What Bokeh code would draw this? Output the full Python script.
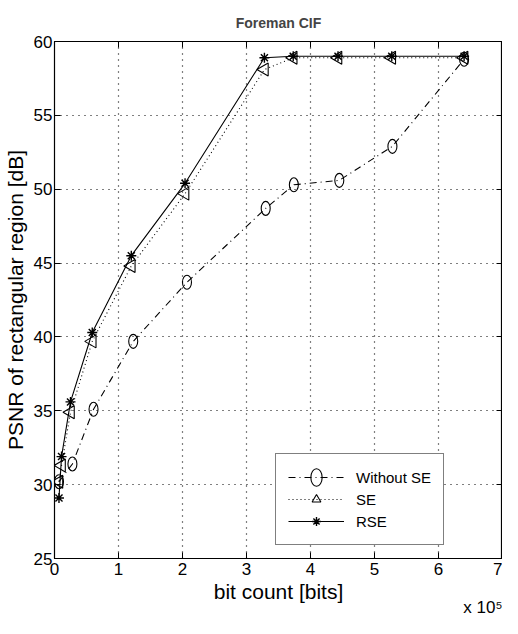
import math
from bokeh.plotting import figure
from bokeh.models import (Range1d, FixedTicker, LinearAxis, Title, Legend, LegendItem)
from bokeh.embed import file_html
from bokeh.resources import INLINE

# ---- data (bit count in bits, PSNR in dB) ----
x_rse = [7000, 11000, 25000, 59000, 120000, 204000, 328000, 373000, 443000, 527000, 640000]
y_rse = [29.1, 31.9, 35.6, 40.3, 45.5, 50.4, 58.9, 59.0, 59.0, 59.0, 59.0]

x_se = [7000, 11000, 25000, 59000, 120000, 204000, 328000, 373000, 443000, 527000, 640000]
y_se = [30.2, 31.3, 34.9, 39.7, 44.8, 49.7, 58.1, 58.9, 58.9, 58.9, 58.9]

x_wo = [7000, 28000, 61000, 123000, 207000, 330000, 374000, 445000, 528000, 640000]
y_wo = [30.2, 31.4, 35.1, 39.7, 43.7, 48.7, 50.3, 50.6, 52.9, 58.8]

x_ticks = [0, 100000, 200000, 300000, 400000, 500000, 600000, 700000]
x_tick_labels = ["0", "1", "2", "3", "4", "5", "6", "7"]
y_ticks = [25, 30, 35, 40, 45, 50, 55, 60]

FONT = "'Liberation Sans Narrow', 'Liberation Sans', sans-serif"

p = figure(width=502, height=618, output_backend="svg", toolbar_location=None,
           x_range=Range1d(0, 700000), y_range=Range1d(25, 60),
           min_border_left=50, min_border_right=0, min_border_top=41,
           min_border_bottom=60)
p.background_fill_color = "white"
p.border_fill_color = "white"
p.outline_line_color = "black"
p.outline_line_width = 1.2

p.title.text = "Foreman CIF"
p.title.align = "center"
p.title.text_font = FONT
p.title.text_font_size = "14px"
p.title.text_font_style = "bold"
p.title.offset = 0
p.title.standoff = 22

# axes
xa = p.xaxis[0]
ya = p.yaxis[0]
xa.ticker = FixedTicker(ticks=x_ticks)
xa.major_label_overrides = {t: l for t, l in zip(x_ticks, x_tick_labels)}
ya.ticker = FixedTicker(ticks=y_ticks)
for ax in (xa, ya):
    ax.major_tick_in = 6
    ax.major_tick_out = 0
    ax.minor_tick_in = 0
    ax.minor_tick_out = 0
    ax.axis_line_color = "black"
    ax.major_tick_line_color = "black"
    ax.major_label_text_font = FONT
    ax.major_label_text_font_size = "17px"
    ax.major_label_text_color = "black"
    ax.axis_label_text_font = FONT
    ax.axis_label_text_font_size = "21px"
    ax.axis_label_text_font_style = "normal"
    ax.axis_label_text_color = "black"
xa.axis_label = "bit count [bits]"
ya.axis_label = "PSNR of rectangular region [dB]"
xa.major_label_standoff = 4
ya.major_label_standoff = 2
xa.axis_label_standoff = 2
ya.axis_label_standoff = 4

top = LinearAxis(ticker=FixedTicker(ticks=x_ticks), major_tick_in=6, major_tick_out=0,
                 minor_tick_in=0, minor_tick_out=0, major_label_text_font_size="0px",
                 axis_line_color=None, major_label_standoff=0)
right = LinearAxis(ticker=FixedTicker(ticks=y_ticks), major_tick_in=6, major_tick_out=0,
                   minor_tick_in=0, minor_tick_out=0, major_label_text_font_size="0px",
                   axis_line_color=None, major_label_standoff=0)
p.add_layout(top, "above")
p.add_layout(right, "right")

# grid
for g in (p.xgrid[0], p.ygrid[0]):
    g.grid_line_color = "black"
    g.grid_line_dash = "1 5"
    g.grid_line_width = 1.2
p.xgrid[0].ticker = FixedTicker(ticks=x_ticks)
p.ygrid[0].ticker = FixedTicker(ticks=y_ticks)

# series
l_wo = p.line(x_wo, y_wo, line_color="black", line_width=1.1, line_dash="7 4 1 4")
m_wo = p.ellipse(x_wo, y_wo, width=9, height=14, width_units="screen", height_units="screen",
                 fill_color=None, line_color="black", line_width=1.1)

l_se = p.line(x_se, y_se, line_color="black", line_width=1.1, line_dash="1 3")
m_se = p.scatter(x_se, y_se, marker="triangle", size=13, angle=math.pi / 2,
                 fill_color=None, line_color="black", line_width=1.1)

l_rse = p.line(x_rse, y_rse, line_color="black", line_width=1.1)
m_rse = p.scatter(x_rse, y_rse, marker="asterisk", size=10,
                  line_color="black", line_width=1.4)

legend = Legend(items=[
    LegendItem(label="Without SE", renderers=[l_wo, m_wo]),
    LegendItem(label="SE", renderers=[l_se, m_se]),
    LegendItem(label="RSE", renderers=[l_rse, m_rse]),
], location=(221, 13))
legend.border_line_color = "black"
legend.border_line_width = 1.2
legend.background_fill_color = "white"
legend.background_fill_alpha = 1
legend.label_text_font = FONT
legend.label_text_font_size = "15px"
legend.label_text_color = "black"
legend.glyph_width = 56
legend.glyph_height = 22
legend.spacing = 0
legend.padding = 12
legend.margin = 0
legend.label_standoff = 12
legend.label_width = 70
p.add_layout(legend, "center")

# x10^5 multiplier, as a title in the bottom panel, pulled up beside the axis label
mult = Title(text="x 10\u2075", align="right", vertical_align="top",
             text_font=FONT, text_font_size="17px",
             text_font_style="normal", text_color="black", standoff=-16, offset=0)
p.add_layout(mult, "below")

open("out.html", "w").write(file_html(p, INLINE))
